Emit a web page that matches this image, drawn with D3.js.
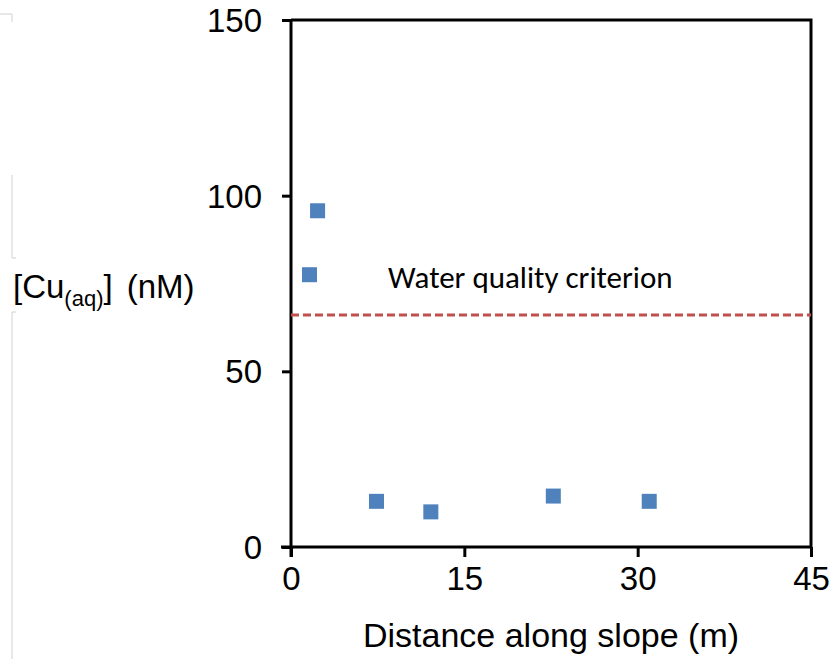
<!DOCTYPE html>
<html>
<head>
<meta charset="utf-8">
<script src="https://cdn.jsdelivr.net/npm/d3@7"></script>
<style>
  body { margin: 0; background: #fff; }
  svg { display: block; }
  .axis path, .axis line { stroke: #000; stroke-width: 3; }
  .axis text { font-family: "Liberation Sans", Arial, sans-serif; font-size: 33px; fill: #000; }
</style>
</head>
<body>
<svg id="chart"></svg>
<script>
// Data
const distance = [1.6, 2.3, 7.4, 12.1, 22.7, 31.0];
const copper = [77.5, 95.7, 13.0, 10.0, 14.5, 13.0];
const criterion = 66;
const xTicks = [0, 15, 30, 45];
const yTicks = [0, 50, 100, 150];

const W = 833, H = 659;
const margin = {top: 20, right: 22, bottom: 112, left: 291};
const width = W - margin.left - margin.right;
const height = H - margin.top - margin.bottom;

const root = d3.select("#chart").attr("width", W).attr("height", H);

// faint frame remnants on the left edge
const ghost = root.append("g").attr("fill", "none").attr("stroke", "#d0d0d0").attr("stroke-width", 1);
ghost.append("path").attr("d", "M0,14 H12 V22");
ghost.append("path").attr("d", "M12,175 V258 H16");
ghost.append("path").attr("d", "M16,312 H12 V659");

const svg = root.append("g").attr("transform", `translate(${margin.left}, ${margin.top})`);

const x = d3.scaleLinear().domain([0, 45]).range([0, width]);
const y = d3.scaleLinear().domain([0, 150]).range([height, 0]);

// box: top and right border
svg.append("path")
  .attr("d", `M0,0 H${width} V${height}`)
  .attr("fill", "none")
  .attr("stroke", "#000")
  .attr("stroke-width", 3);

// X axis
const gx = svg.append("g")
  .attr("class", "axis")
  .attr("transform", `translate(0, ${height})`)
  .call(d3.axisBottom(x).tickValues(xTicks).tickSizeInner(10).tickSizeOuter(0).tickPadding(10));
gx.select(".domain").attr("d", `M-10,0 H${width}`);

// Y axis
const gy = svg.append("g")
  .attr("class", "axis")
  .call(d3.axisLeft(y).tickValues(yTicks).tickSizeInner(9).tickSizeOuter(0).tickPadding(20));
gy.selectAll(".tick text").attr("dy", "0.35em");
gy.select(".domain").attr("d", `M0,0 V${height + 10}`);

// water quality criterion
svg.append("line")
  .attr("x1", 0).attr("x2", width)
  .attr("y1", y(criterion)).attr("y2", y(criterion))
  .attr("stroke", "#c0504d")
  .attr("stroke-width", 3)
  .attr("stroke-dasharray", "8,4");

svg.append("text")
  .attr("x", x(8.4))
  .attr("y", y(criterion) - 27)
  .attr("font-family", "Carlito, 'Open Sans', sans-serif")
  .attr("font-size", "31px")
  .attr("fill", "#000")
  .text("Water quality criterion");

// points
const pts = distance.map((d, i) => ({d: d, c: copper[i]}));
const s = 15;
svg.selectAll("rect.pt")
  .data(pts)
  .enter().append("rect")
  .attr("class", "pt")
  .attr("x", (p) => x(p.d) - s / 2)
  .attr("y", (p) => y(p.c) - s / 2)
  .attr("width", s)
  .attr("height", s)
  .attr("fill", "#4f81bd");

// axis titles
root.append("text")
  .attr("x", margin.left + width / 2)
  .attr("y", 647)
  .attr("text-anchor", "middle")
  .attr("font-family", "'Liberation Sans', Arial, sans-serif")
  .attr("font-size", "34px")
  .text("Distance along slope (m)");

const yl = root.append("text")
  .attr("x", 13)
  .attr("y", 298)
  .attr("font-family", "'Liberation Sans', Arial, sans-serif")
  .attr("font-size", "33px");
yl.append("tspan").text("[Cu");
yl.append("tspan").attr("font-size", "22px").attr("dy", 8).text("(aq)");
yl.append("tspan").attr("dy", -8).text("]");
yl.append("tspan").attr("dx", 14).text("(nM)");
</script>
</body>
</html>
